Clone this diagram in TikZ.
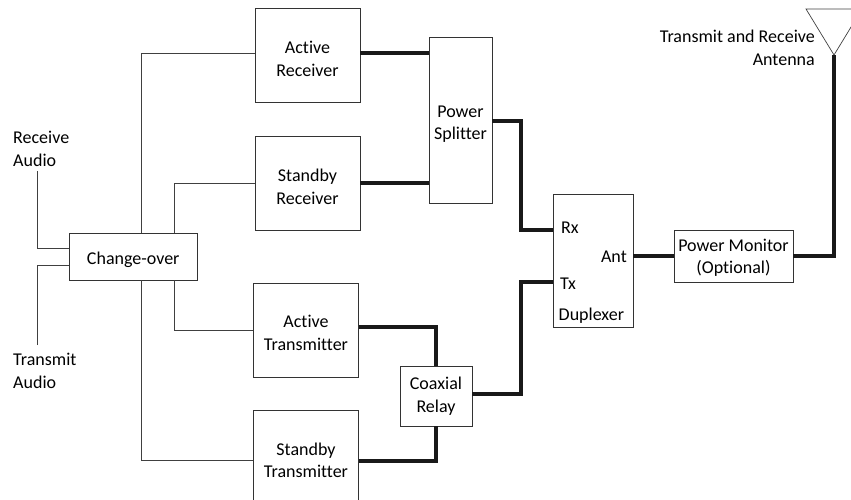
\documentclass[tikz,border=0pt]{standalone}
\usepackage{fontspec}
\setmainfont[Ligatures=NoCommon]{Carlito}
% extra height above the first line pushes a block's text down
\newcommand{\dropline}[1]{\rule{0pt}{#1pt}}
\tikzset{
    blockbox/.style={draw=black!80,line width=0.9pt,inner sep=0pt,align=center,font=\fontsize{18}{22.5}\selectfont},
    textlabel/.style={inner sep=0pt,font=\fontsize{18}{22.5}\selectfont},
    thinline/.style={draw=black!75,line width=0.9pt},
    thickline/.style={draw=black!90,line width=4pt}
}

\begin{document}
\begin{tikzpicture}[x=1pt,y=-1pt]
    \clip (0,0) rectangle (851,499);
    \useasboundingbox (0,0) rectangle (851,499);

    % Draw the blocks
    \node[blockbox,minimum width=105pt,minimum height=94pt] (activerx) at (307.5,55) {\dropline{20}Active\\Receiver};
    \node[blockbox,minimum width=105pt,minimum height=94pt] (standbyrx) at (307.5,183) {\dropline{20}Standby\\Receiver};
    \node[blockbox,minimum width=105pt,minimum height=94pt] (activetx) at (306,330) {\dropline{18}Active\\Transmitter};
    \node[blockbox,minimum width=105pt,minimum height=100pt] (standbytx) at (306,460.5) {Standby\\Transmitter};
    \node[blockbox,minimum width=127.5pt,minimum height=46.5pt] (changeover) at (133.25,256.75) {\dropline{18}Change-over};
    \node[blockbox,minimum width=63pt,minimum height=166pt] (splitter) at (460.5,120) {\dropline{20}Power\\Splitter};
    \node[blockbox,minimum width=72pt,minimum height=60pt] (relay) at (436,396) {Coaxial\\Relay};
    \node[blockbox,minimum width=80pt,minimum height=133pt] (duplexer) at (593,260.5) {};
    \node[blockbox,minimum width=119pt,minimum height=52pt] (powermon) at (733.5,256) {\dropline{16}Power Monitor\\(Optional)};

    % Label the duplexer ports
    \node[textlabel,anchor=west] (rxlabel) at (561,228) {Rx};
    \node[textlabel,anchor=west] (txlabel) at (560,284) {Tx};
    \node[textlabel,anchor=east] (antlabel) at (627,257) {Ant};
    \node[textlabel,anchor=west] (duplabel) at (558.5,316) {Duplexer};
    \coordinate (rxport) at (duplexer.west |- 0,230);
    \coordinate (txport) at (duplexer.west |- 0,282);

    % Draw the antenna
    \coordinate (antleft) at (806,9);
    \coordinate (antright) at (862,9);
    \coordinate (antapex) at (834,55);
    \draw[thinline,line width=0.7pt] (antleft) -- (antright) -- (antapex) -- cycle;

    % Outside labels
    \node[textlabel,align=left,anchor=north west] (rxaudio) at (13,131) {Receive\\Audio};
    \node[textlabel,align=left,anchor=north west] (txaudio) at (13,353) {Transmit\\Audio};
    \node[textlabel,align=right,anchor=north east] (antname) at (815,30) {Transmit and Receive\\Antenna};
    \coordinate (rxaudioend) at (37.5,171);
    \coordinate (txaudioend) at (37.5,345);

    % Thin connectors
    \draw[thinline] ([xshift=8pt]changeover.north) |- ([yshift=2pt]activerx.west);
    \draw[thinline] ([xshift=41pt]changeover.north) |- (standbyrx.west);
    \draw[thinline] ([xshift=41pt]changeover.south) |- (activetx.west);
    \draw[thinline] ([xshift=8pt]changeover.south) |- (standbytx.west);
    \draw[thinline] (rxaudioend) |- ([yshift=8pt]changeover.west);
    \draw[thinline] (txaudioend) |- ([yshift=-9pt]changeover.west);

    % Thick connectors
    \draw[thickline] ([yshift=2pt]activerx.east) -- (splitter.west |- 0,53);
    \draw[thickline] (standbyrx.east) -- (splitter.west |- standbyrx.east);
    \draw[thickline] ([yshift=-1pt]splitter.east) -| (521,230) -- (rxport);
    \draw[thickline] ([yshift=2.5pt]relay.east) -| (521,282) -- (txport);
    \draw[thickline] ([yshift=3pt]activetx.east) -| (relay.north);
    \draw[thickline] (standbytx.east) -| (relay.south);
    \draw[thickline] (duplexer.east |- powermon.west) -- (powermon.west);
    \draw[thickline] (powermon.east) -| (antapex);
\end{tikzpicture}
\end{document}
